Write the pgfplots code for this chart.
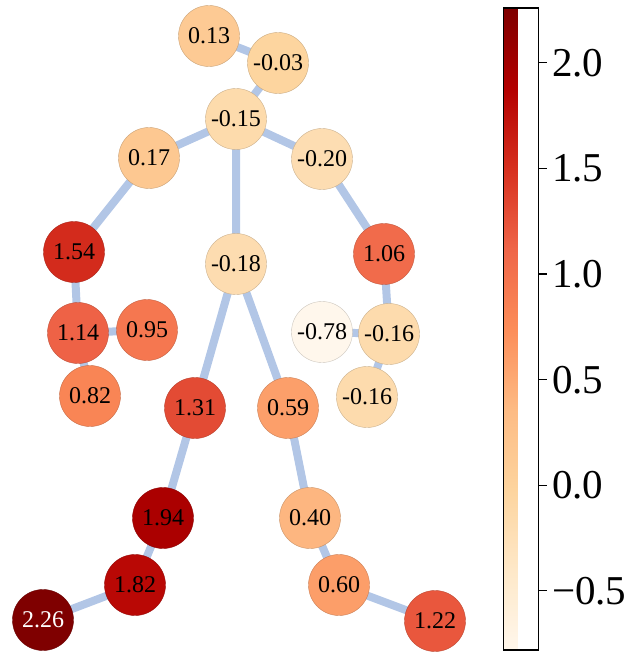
\documentclass[border=0pt]{standalone}
\usepackage{fontspec}
\setmainfont{Liberation Serif}
\usepackage{pgfplots}
\usepackage{pgfplotstable}
\pgfplotsset{compat=1.18}
\definecolor{edgeblue}{RGB}{178,198,230}
\pgfplotstableread{
x y v
209 36 0.13
278 63 -0.03
236 119 -0.15
149 158 0.17
322 159 -0.20
74 252 1.54
236 264 -0.18
384 254 1.06
78 333 1.14
147 330 0.95
322 332 -0.78
389 334 -0.16
90 396 0.82
195 408 1.31
288 408 0.59
367 397 -0.16
163 518 1.94
310 518 0.40
135 585 1.82
339 585 0.60
435 621 1.22
}\nodesblack
\pgfplotstableread{
x y v
43 620 2.26
}\nodeswhite
\begin{document}
\begin{tikzpicture}
\begin{axis}[
  x=1pt, y=1pt, xmin=0, xmax=628, ymin=0, ymax=652,
  y dir=reverse, hide axis, clip=false, scale only axis,
  colormap={OrRd}{rgb255=(255,247,236) rgb255=(254,232,200) rgb255=(253,212,158) rgb255=(253,187,132) rgb255=(252,141,89) rgb255=(239,101,72) rgb255=(215,48,31) rgb255=(179,0,0) rgb255=(127,0,0)},
  point meta min=-0.78, point meta max=2.26,
  colorbar,
  colorbar style={
    at={(parent axis.north west)}, anchor=north west,
    xshift=495pt, yshift=-8pt,
    scale only axis, width=35pt, height=642pt,
    ytick={-0.5,0,0.5,1,1.5,2},
    yticklabels={−0.5,0.0,0.5,1.0,1.5,2.0},
    ytick pos=right, yticklabel pos=right,
    yticklabel style={font=\fontsize{41}{41}\selectfont, xshift=2pt},
    tick align=outside, major tick length=8pt,
    tick style={black, line width=1.2pt},
    axis line style={black, line width=1.5pt},
  },
  nodelabel/.style={
    only marks, mark=none, point meta=explicit,
    nodes near coords={\pgfmathprintnumber[fixed, fixed zerofill, precision=2, assume math mode=true]{\pgfplotspointmeta}},
    every node near coord/.append style={anchor=center, inner sep=0pt, text=#1, font=\fontsize{24}{24}\selectfont},
  },
]
\addplot[edgeblue, line width=8pt, line join=round, unbounded coords=jump] coordinates {
(209,36)(278,63)(236,119)(149,158)(74,252)(78,333)(90,396)
(nan,nan)
(78,333)(147,330)
(nan,nan)
(236,119)(322,159)(384,254)(389,334)(367,397)
(nan,nan)
(389,334)(322,332)
(nan,nan)
(236,119)(236,264)(195,408)(163,518)(135,585)(43,620)
(nan,nan)
(236,264)(288,408)(310,518)(339,585)(435,621)
};
\addplot[scatter, only marks, mark=*, mark size=30.5pt, point meta=explicit]
  table[x=x, y=y, meta=v] {\nodesblack};
\addplot[scatter, only marks, mark=*, mark size=30.5pt, point meta=explicit]
  table[x=x, y=y, meta=v] {\nodeswhite};
\addplot[nodelabel=black] table[x=x, y=y, meta=v] {\nodesblack};
\addplot[nodelabel=white] table[x=x, y=y, meta=v] {\nodeswhite};
\path (axis cs:0,0) rectangle (axis cs:628,652);
\end{axis}
\end{tikzpicture}
\end{document}
